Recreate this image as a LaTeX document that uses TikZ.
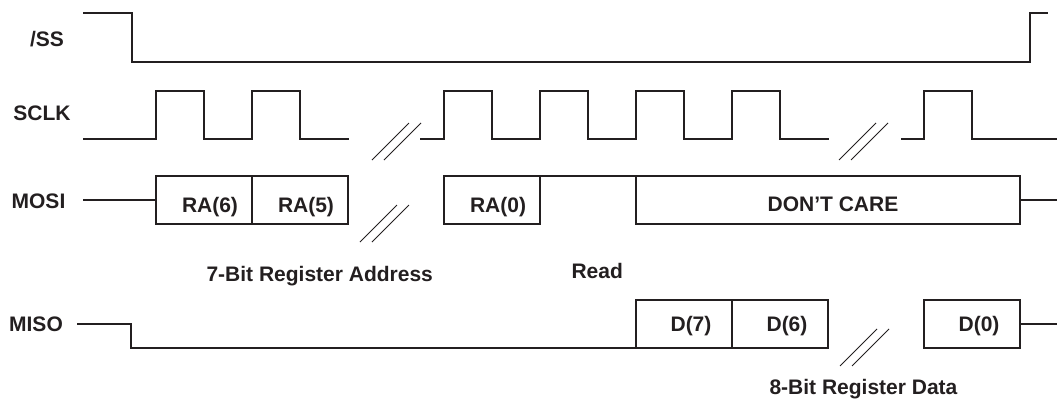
\documentclass[tikz,border=0pt]{standalone}
\usepackage{fontspec}
\setmainfont{Liberation Sans}
\usepackage{xcolor}
\usetikzlibrary{positioning}
\definecolor{ink}{HTML}{231F20}

\begin{document}
\begin{tikzpicture}[
  x=1pt, y=-1pt,
  font=\fontsize{21}{25}\selectfont\bfseries,
  wave/.style={draw=ink, line width=2.2pt},
  cell/.style={rectangle, draw=ink, line width=2.2pt, minimum width=96pt, minimum height=48pt, inner sep=0pt, outer sep=0pt},
  sig/.style={text=ink, anchor=base},
  mositext/.style={text=ink, anchor=base, xshift=6pt, yshift=-12pt},
  misotext/.style={text=ink, anchor=base, xshift=7pt, yshift=-7.5pt},
  brk/.style={draw=ink, line width=0.9pt},
]
\useasboundingbox (0,0) rectangle (1057,400);

% signal names
\node[sig] (ss) at (47,46) {/SS};
\node[sig] (sclk) at (42,120) {SCLK};
\node[sig] (mosi) at (38.5,208) {MOSI};
\node[sig] (miso) at (36,331) {MISO};

% /SS
\draw[wave] (83,13) -- (132,13) -- (132,62) -- (1030,62) -- (1030,13) -- (1048,13);

% SCLK
\draw[wave] (83,139) foreach \t in {156,252} { -- (\t,139) -- (\t,91) -- (\t+48,91) -- (\t+48,139) } -- (349,139);
\draw[wave] (420,139) foreach \t in {444,540,636,732} { -- (\t,139) -- (\t,91) -- (\t+48,91) -- (\t+48,139) } -- (829,139);
\draw[wave] (901,139) -- (924,139) -- (924,91) -- (972,91) -- (972,139) -- (1057,139);

% MOSI
\node[cell] (ra6) at (204,200) {};
\node[cell, right=0pt of ra6] (ra5) {};
\node[cell] (ra0) at (492,200) {};
\node[cell, minimum width=384pt] (dc) at (828,200) {};
\node[mositext] (ra6t) at (ra6.center) {RA(6)};
\node[mositext] (ra5t) at (ra5.center) {RA(5)};
\node[mositext] (ra0t) at (ra0.center) {RA(0)};
\node[mositext, xshift=-1pt, yshift=1pt] (dct) at (dc.center) {DON’T CARE};
\coordinate (mosiin) at (83,200);
\coordinate (mosiout) at (1057,200);
\draw[wave] (mosiin) -- (ra6.west);
\draw[wave] (ra0.north east) -- (dc.north west);
\draw[wave] (dc.east) -- (mosiout);

% MISO
\node[cell] (d7) at (684,324) {};
\node[cell, right=0pt of d7] (d6) {};
\node[cell] (d0) at (972,324) {};
\node[misotext] (d7t) at (d7.center) {D(7)};
\node[misotext] (d6t) at (d6.center) {D(6)};
\node[misotext] (d0t) at (d0.center) {D(0)};
\coordinate (misoin) at (77,324);
\coordinate (misoout) at (1057,324);
\draw[wave] (misoin) -- (131,324) -- (131,348) -- (d7.south west);
\draw[wave] (d0.east) -- (misoout);

% breaks
\foreach \bx/\by in {372/160, 360/242, 839/160, 840/366}
  \draw[brk] (\bx,\by) -- ++(37,-37) (\bx+12,\by) -- ++(37,-37);

% field names
\node[sig, anchor=base west] (addr) at (203,281) {7-Bit Register Address};
\node[sig, anchor=base west] (rd) at (568,278) {Read};
\node[sig, anchor=base west] (data) at (766,394) {8-Bit Register Data};

\end{tikzpicture}
\end{document}
